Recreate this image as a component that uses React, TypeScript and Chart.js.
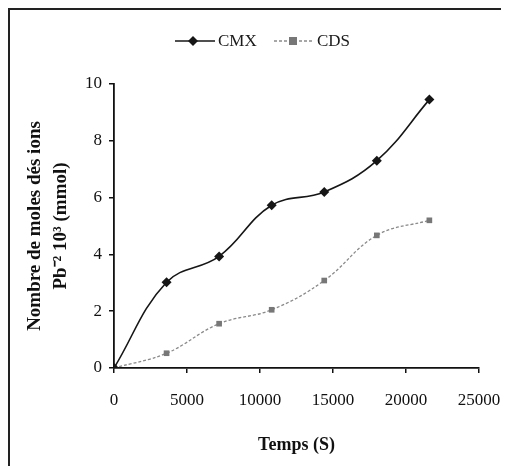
import React, { useEffect, useRef } from "react";
import { Chart, registerables } from "chart.js";

Chart.register(...registerables);

// Time (s) and moles of Pb2+ ions (x10^3 mmol) for the two materials
const timeSeconds = [0, 3600, 7200, 10800, 14400, 18000, 21600];
const cmxValues = [0, 3.02, 3.93, 5.73, 6.2, 7.3, 9.45];
const cdsValues = [0, 0.52, 1.56, 2.05, 3.08, 4.67, 5.2];
const seriesNames = ["CMX", "CDS"];
const xTickStep = 5000;
const yTickStep = 2;

const SERIF = "'Liberation Serif', 'Times New Roman', serif";
const CMX_COLOR = "#161616";
const CDS_LINE = "#8a8a8a";
const CDS_MARK = "#777777";
const WIDTH = 493;
const HEIGHT = 458;

// Frame around the figure and a legend with line + marker samples
const decorations = {
  id: "decorations",
  afterDraw(chart: Chart) {
    const ctx = chart.ctx;
    ctx.save();
    ctx.strokeStyle = "#222";
    ctx.lineWidth = 2;
    ctx.beginPath();
    ctx.moveTo(1, chart.height);
    ctx.lineTo(1, 1);
    ctx.lineTo(chart.width, 1);
    ctx.stroke();

    const y = 33;
    ctx.font = `17px ${SERIF}`;
    ctx.textBaseline = "middle";

    // CMX sample
    ctx.strokeStyle = CMX_COLOR;
    ctx.lineWidth = 1.6;
    ctx.setLineDash([]);
    ctx.beginPath();
    ctx.moveTo(167, y);
    ctx.lineTo(207, y);
    ctx.stroke();
    ctx.fillStyle = CMX_COLOR;
    ctx.beginPath();
    ctx.moveTo(185, y - 5);
    ctx.lineTo(190, y);
    ctx.lineTo(185, y + 5);
    ctx.lineTo(180, y);
    ctx.closePath();
    ctx.fill();
    ctx.fillStyle = "#1a1a1a";
    ctx.fillText(seriesNames[0], 210, y + 1);

    // CDS sample
    ctx.strokeStyle = CDS_LINE;
    ctx.lineWidth = 1.3;
    ctx.setLineDash([3, 2]);
    ctx.beginPath();
    ctx.moveTo(266, y);
    ctx.lineTo(305, y);
    ctx.stroke();
    ctx.setLineDash([]);
    ctx.fillStyle = CDS_MARK;
    ctx.fillRect(281, y - 4, 8, 8);
    ctx.fillStyle = "#1a1a1a";
    ctx.fillText(seriesNames[1], 309, y + 1);
    ctx.restore();
  },
};

export default function App() {
  const canvasRef = useRef<HTMLCanvasElement | null>(null);

  useEffect(() => {
    const canvas = canvasRef.current;
    if (!canvas) return;

    const cmxPoints = timeSeconds.map((t, i) => ({ x: t, y: cmxValues[i] }));
    const cdsPoints = timeSeconds.map((t, i) => ({ x: t, y: cdsValues[i] }));

    const chart = new Chart(canvas, {
      type: "line",
      data: {
        datasets: [
          {
            label: seriesNames[0],
            data: cmxPoints,
            borderColor: CMX_COLOR,
            backgroundColor: CMX_COLOR,
            borderWidth: 1.6,
            tension: 0.4,
            pointStyle: "rectRot",
            pointRadius: 5,
            pointBorderWidth: 0,
            pointBackgroundColor: CMX_COLOR,
          },
          {
            label: seriesNames[1],
            data: cdsPoints,
            borderColor: CDS_LINE,
            backgroundColor: CDS_MARK,
            borderWidth: 1.3,
            borderDash: [3, 2],
            tension: 0.4,
            pointStyle: "rect",
            pointRadius: 4,
            pointBorderWidth: 0,
            pointBackgroundColor: CDS_MARK,
          },
        ],
      },
      options: {
        animation: false,
        responsive: false,
        devicePixelRatio: 1,
        layout: { padding: { top: 76, left: 0, right: 22, bottom: 0 } },
        plugins: {
          legend: { display: false },
          tooltip: { enabled: false },
        },
        scales: {
          x: {
            type: "linear",
            min: 0,
            max: 25000,
            afterFit: (scale: any) => {
              scale.height = 98;
              scale.paddingLeft = 0;
              scale.paddingRight = 0;
            },
            ticks: {
              stepSize: xTickStep,
              color: "#111",
              padding: 17,
              font: { family: SERIF, size: 17 },
              callback: (v: any) => String(v),
            },
            grid: {
              display: true,
              drawOnChartArea: false,
              drawTicks: true,
              tickLength: 5,
              color: "#111",
              lineWidth: 1.5,
            },
            border: { display: true, color: "#111", width: 1.8 },
            title: {
              display: true,
              text: "Temps (S)",
              color: "#111",
              font: { family: SERIF, size: 18, weight: "bold" },
              padding: { top: 0, bottom: 10 },
            },
          },
          y: {
            type: "linear",
            min: 0,
            max: 10,
            afterFit: (scale: any) => {
              scale.width = 106;
            },
            ticks: {
              stepSize: yTickStep,
              color: "#111",
              padding: 7,
              font: { family: SERIF, size: 17 },
            },
            grid: {
              display: true,
              drawOnChartArea: false,
              drawTicks: true,
              tickLength: 5,
              color: "#111",
              lineWidth: 1.5,
            },
            border: { display: true, color: "#111", width: 1.8 },
            title: {
              display: true,
              text: ["Nombre de moles dés ions", "Pb⁻² 10³ (mmol)"],
              color: "#111",
              font: { family: SERIF, size: 19, weight: "bold", lineHeight: 1.37 },
              padding: { top: 14, bottom: 0 },
            },
          },
        },
      },
      plugins: [decorations],
    });

    return () => chart.destroy();
  }, []);

  return (
    <div style={{ width: WIDTH, height: HEIGHT }}>
      <canvas ref={canvasRef} width={WIDTH} height={HEIGHT} style={{ display: "block" }} />
    </div>
  );
}
